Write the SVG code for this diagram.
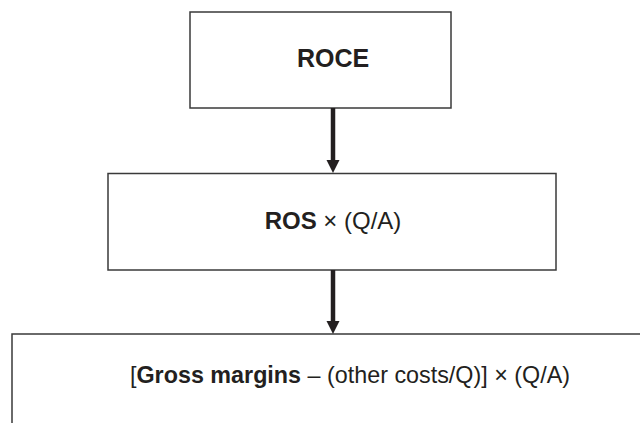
<svg xmlns="http://www.w3.org/2000/svg" width="640" height="423" viewBox="0 0 640 423">
<style>
.box{fill:#fff;stroke:#3a3a3a;stroke-width:1.5}
.t{font-family:"Liberation Sans",Arial,Helvetica,sans-serif;font-size:24px;fill:#231f20;text-anchor:middle}
.b{font-weight:bold}
.conn{stroke:#231f20;stroke-width:4.5;fill:none}
.head{fill:#231f20}
</style>
<rect width="640" height="423" fill="#fff"/>
<g id="roce">
<rect class="box" x="190" y="12" width="261" height="96"/>
<text class="t b" x="333" y="67" style="font-size:25px">ROCE</text>
</g>
<g id="ros">
<rect class="box" x="108" y="173.5" width="448" height="96.5"/>
<text class="t" x="333" y="229"><tspan class="b">ROS</tspan> × (Q/A)</text>
</g>
<g id="gross">
<rect class="box" x="12" y="334" width="660" height="120"/>
<text class="t" x="350" y="383" textLength="440" lengthAdjust="spacingAndGlyphs">[<tspan class="b">Gross margins</tspan> – (other costs/Q)] × (Q/A)</text>
</g>
<g id="connectors">
<line class="conn" x1="333" y1="108" x2="333" y2="161"/>
<polygon class="head" points="326.5,160 339.5,160 333,173"/>
<line class="conn" x1="333" y1="270" x2="333" y2="322"/>
<polygon class="head" points="326.5,321 339.5,321 333,334"/>
</g>
</svg>
